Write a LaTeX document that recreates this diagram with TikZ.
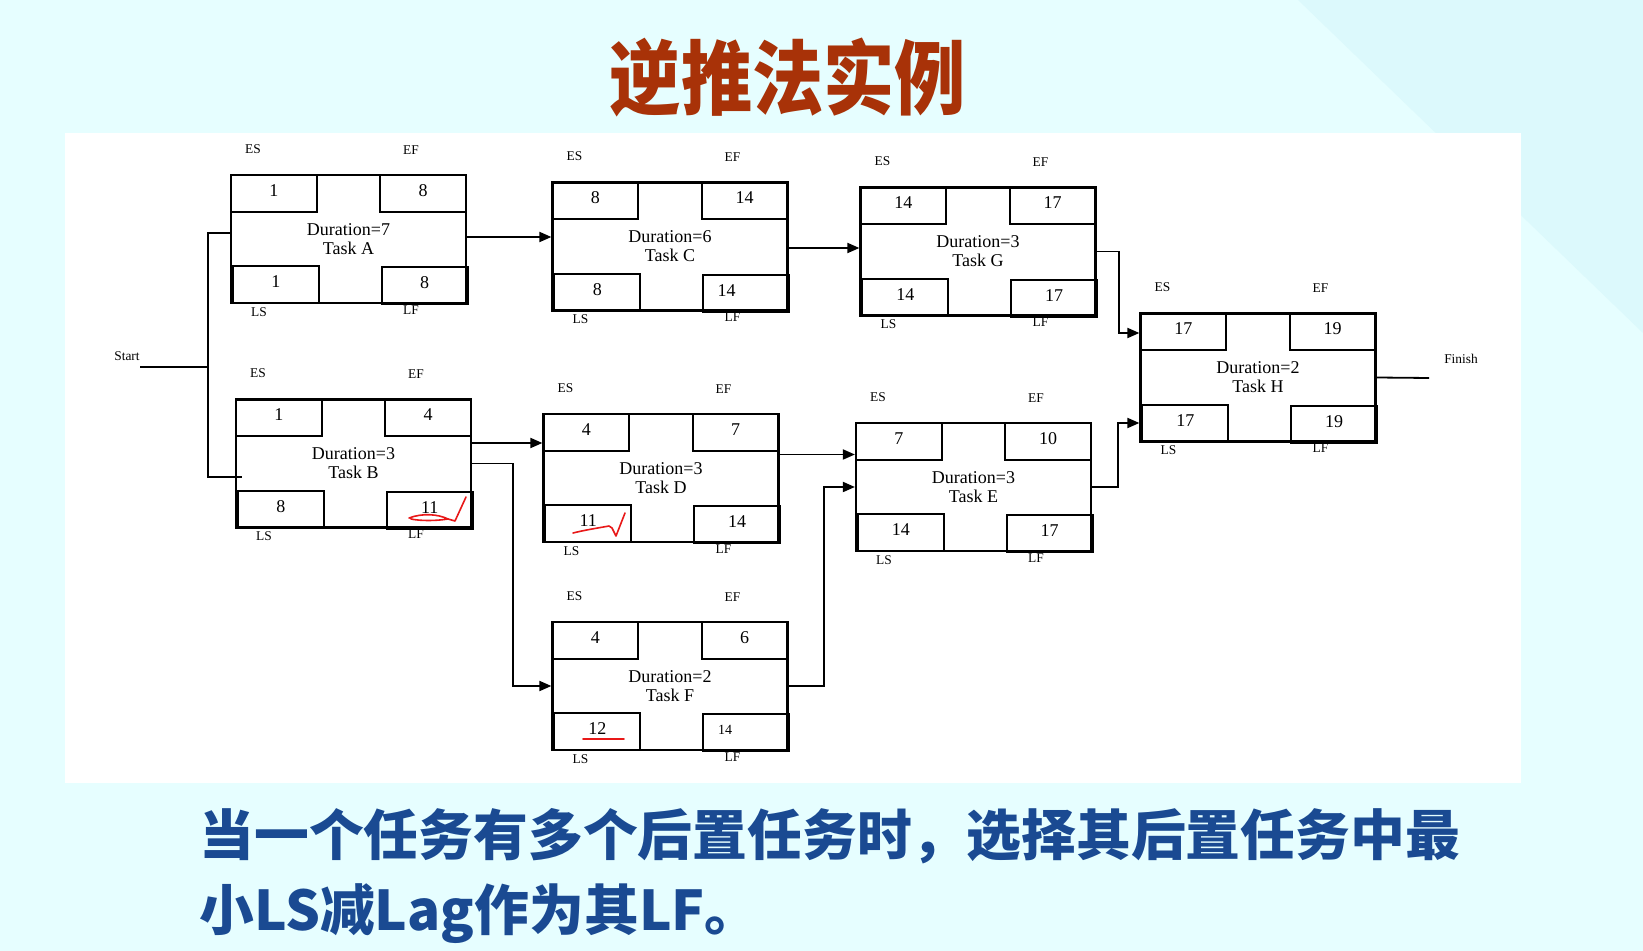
\documentclass[tikz,border=0pt]{standalone}
\usepackage{fontspec}
\setmainfont{Liberation Serif}
\newfontfamily\cjk{Noto Sans CJK SC}
\newfontfamily\cjktitle{Noto Sans CJK SC}[FakeStretch=0.88]
\usetikzlibrary{arrows.meta}
\definecolor{bgcyan}{RGB}{220,249,252}
\definecolor{bglight}{RGB}{230,254,255}
\definecolor{titlered}{RGB}{168,50,8}
\definecolor{noteblue}{RGB}{26,74,146}
\definecolor{inkred}{RGB}{232,24,24}
\begin{document}
\begin{tikzpicture}[x=.5pt,y=-.5pt,
  taskbox/.style={draw,line width=1.1pt,minimum width=117.5pt,minimum height=64pt,inner sep=0pt,align=center,font=\fontsize{9}{9.5}\selectfont},
  cell/.style={draw,line width=0.9pt,minimum width=43pt,minimum height=18.5pt,inner sep=0pt,text depth=3pt,font=\fontsize{9}{10}\selectfont},
  tag/.style={inner sep=0pt,font=\fontsize{6.7}{8}\selectfont},
  wire/.style={draw,line width=0.9pt},
  link/.style={wire,-{Triangle[length=6pt,width=5pt]}},
  redmark/.style={draw=inkred,line width=0.8pt,line cap=round,line join=round},
  note/.style={inner sep=0pt,text=noteblue,font=\cjk\bfseries\fontsize{27.4}{30}\selectfont}]
\path[use as bounding box] (0,0) rectangle (1643,951);
\fill[bglight] (0,0) rectangle (1643,951);
\fill[bgcyan] (1298,0) -- (1643,0) -- (1643,333) -- cycle;
\fill[white] (65,133) rectangle (1521,783);
\node[anchor=base,inner sep=0pt,text=titlered,font=\cjktitle\bfseries\fontsize{40.5}{44}\selectfont] (title) at (788,109) {逆推法实例};
\node[taskbox] (A) at (348.5,239) {Duration=7\\Task A};
\node[cell,anchor=north west] (A-es) at (A.north west) {1};
\node[cell,anchor=north east] (A-ef) at (A.north east) {8};
\node[cell,anchor=south west] (A-ls) at ([xshift=1pt]A.south west) {1};
\node[cell,anchor=south east] (A-lf) at ([shift={(0.75pt,-0.5pt)}]A.south east) {8};
\node[tag] (A-es-tag) at ([shift={(11.5pt,12.5pt)}]A.north west) {ES};
\node[tag] (A-ef-tag) at ([shift={(90.5pt,12pt)}]A.north west) {EF};
\node[tag] (A-ls-tag) at ([shift={(14.5pt,-4pt)}]A.south west) {LS};
\node[tag] (A-lf-tag) at ([shift={(90.5pt,-3pt)}]A.south west) {LF};
\node[taskbox] (B) at (353.5,463.5) {Duration=3\\Task B};
\node[cell,anchor=north west] (B-es) at (B.north west) {1};
\node[cell,anchor=north east] (B-ef) at (B.north east) {4};
\node[cell,anchor=south west] (B-ls) at ([xshift=1pt]B.south west) {8};
\node[cell,anchor=south east] (B-lf) at ([shift={(0.75pt,-0.5pt)}]B.south east) {11};
\node[tag] (B-es-tag) at ([shift={(11.5pt,12.5pt)}]B.north west) {ES};
\node[tag] (B-ef-tag) at ([shift={(90.5pt,12pt)}]B.north west) {EF};
\node[tag] (B-ls-tag) at ([shift={(14.5pt,-4pt)}]B.south west) {LS};
\node[tag] (B-lf-tag) at ([shift={(90.5pt,-3pt)}]B.south west) {LF};
\node[taskbox] (C) at (670,246.5) {Duration=6\\Task C};
\node[cell,anchor=north west] (C-es) at (C.north west) {8};
\node[cell,anchor=north east] (C-ef) at (C.north east) {14};
\node[cell,anchor=south west] (C-ls) at ([xshift=1pt]C.south west) {8};
\node[cell,anchor=south east] (C-lf) at ([shift={(0.75pt,-0.5pt)}]C.south east) {14\hspace*{19.5pt}};
\node[tag] (C-es-tag) at ([shift={(11.5pt,12.5pt)}]C.north west) {ES};
\node[tag] (C-ef-tag) at ([shift={(90.5pt,12pt)}]C.north west) {EF};
\node[tag] (C-ls-tag) at ([shift={(14.5pt,-4pt)}]C.south west) {LS};
\node[tag] (C-lf-tag) at ([shift={(90.5pt,-3pt)}]C.south west) {LF};
\node[taskbox] (D) at (661,478) {Duration=3\\Task D};
\node[cell,anchor=north west] (D-es) at (D.north west) {4};
\node[cell,anchor=north east] (D-ef) at (D.north east) {7};
\node[cell,anchor=south west] (D-ls) at ([xshift=1pt]D.south west) {11};
\node[cell,anchor=south east] (D-lf) at ([shift={(0.75pt,-0.5pt)}]D.south east) {14};
\node[tag] (D-es-tag) at ([shift={(11.5pt,12.5pt)}]D.north west) {ES};
\node[tag] (D-ef-tag) at ([shift={(90.5pt,12pt)}]D.north west) {EF};
\node[tag] (D-ls-tag) at ([shift={(14.5pt,-4pt)}]D.south west) {LS};
\node[tag] (D-lf-tag) at ([shift={(90.5pt,-3pt)}]D.south west) {LF};
\node[taskbox] (E) at (973.5,487) {Duration=3\\Task E};
\node[cell,anchor=north west] (E-es) at (E.north west) {7};
\node[cell,anchor=north east] (E-ef) at (E.north east) {10};
\node[cell,anchor=south west] (E-ls) at ([xshift=1pt]E.south west) {14};
\node[cell,anchor=south east] (E-lf) at ([shift={(0.75pt,-0.5pt)}]E.south east) {17};
\node[tag] (E-es-tag) at ([shift={(11.5pt,12.5pt)}]E.north west) {ES};
\node[tag] (E-ef-tag) at ([shift={(90.5pt,12pt)}]E.north west) {EF};
\node[tag] (E-ls-tag) at ([shift={(14.5pt,-4pt)}]E.south west) {LS};
\node[tag] (E-lf-tag) at ([shift={(90.5pt,-3pt)}]E.south west) {LF};
\node[taskbox] (F) at (670,686) {Duration=2\\Task F};
\node[cell,anchor=north west] (F-es) at (F.north west) {4};
\node[cell,anchor=north east] (F-ef) at (F.north east) {6};
\node[cell,anchor=south west] (F-ls) at ([xshift=1pt]F.south west) {12};
\node[cell,anchor=south east,font=\fontsize{7}{8}\selectfont] (F-lf) at ([shift={(0.75pt,-0.5pt)}]F.south east) {14\hspace*{21pt}};
\node[tag] (F-es-tag) at ([shift={(11.5pt,12.5pt)}]F.north west) {ES};
\node[tag] (F-ef-tag) at ([shift={(90.5pt,12pt)}]F.north west) {EF};
\node[tag] (F-ls-tag) at ([shift={(14.5pt,-4pt)}]F.south west) {LS};
\node[tag] (F-lf-tag) at ([shift={(90.5pt,-3pt)}]F.south west) {LF};
\node[taskbox] (G) at (978,251.5) {Duration=3\\Task G};
\node[cell,anchor=north west] (G-es) at (G.north west) {14};
\node[cell,anchor=north east] (G-ef) at (G.north east) {17};
\node[cell,anchor=south west] (G-ls) at ([xshift=1pt]G.south west) {14};
\node[cell,anchor=south east] (G-lf) at ([shift={(0.75pt,-0.5pt)}]G.south east) {17};
\node[tag] (G-es-tag) at ([shift={(11.5pt,12.5pt)}]G.north west) {ES};
\node[tag] (G-ef-tag) at ([shift={(90.5pt,12pt)}]G.north west) {EF};
\node[tag] (G-ls-tag) at ([shift={(14.5pt,-4pt)}]G.south west) {LS};
\node[tag] (G-lf-tag) at ([shift={(90.5pt,-3pt)}]G.south west) {LF};
\node[taskbox] (H) at (1258,377.5) {Duration=2\\Task H};
\node[cell,anchor=north west] (H-es) at (H.north west) {17};
\node[cell,anchor=north east] (H-ef) at (H.north east) {19};
\node[cell,anchor=south west] (H-ls) at ([xshift=1pt]H.south west) {17};
\node[cell,anchor=south east] (H-lf) at ([shift={(0.75pt,-0.5pt)}]H.south east) {19};
\node[tag] (H-es-tag) at ([shift={(11.5pt,12.5pt)}]H.north west) {ES};
\node[tag] (H-ef-tag) at ([shift={(90.5pt,12pt)}]H.north west) {EF};
\node[tag] (H-ls-tag) at ([shift={(14.5pt,-4pt)}]H.south west) {LS};
\node[tag] (H-lf-tag) at ([shift={(90.5pt,-3pt)}]H.south west) {LF};
\node[tag] (start) at (127,356) {Start};
\node[tag] (finish) at (1461,359) {Finish};
\coordinate (start-end) at (140,367);
\coordinate (fork) at (208,367);
\coordinate (finish-end) at (1429,378);
\draw[wire] (start-end) -- (fork);
\draw[wire] ([yshift=3pt]A.west) -| (fork) |- ([shift={(3.5pt,-6.75pt)}]B.west);
\draw[link] ([yshift=1pt]A.east) -- ([yshift=4.75pt]C.west);
\draw[link] ([yshift=-0.75pt]C.east) -- ([yshift=1.75pt]G.west);
\draw[link] (G.east) -- ++(11pt,0) |- ([yshift=22.25pt]H.west);
\draw[link] ([yshift=10.25pt]B.east) -- ([yshift=17.5pt]D.west);
\draw[link] (B.east) -- ++(20.5pt,0) |- (F.west);
\draw[link] ([yshift=11.75pt]D.east) -- ([yshift=16.25pt]E.west);
\draw[link] (F.east) -- ++(17.5pt,0) |- (E.west);
\draw[link] (E.east) -- ++(13pt,0) |- ([yshift=-22.75pt]H.west);
\draw[wire] (H.east) -- (finish-end);
\draw[redmark] (409,518) .. controls (422,513) and (438,514) .. (448,519) .. controls (436,521) and (420,521) .. (411,519);
\draw[redmark] (448,519) -- (455,521) -- (466,497);
\draw[redmark] (573,533) .. controls (585,530) and (598,528) .. (609,526) -- (612,528) -- (616,536) -- (625,513);
\draw[redmark] (583,739) -- (624,739);
\node[note,anchor=base west] (note1) at (199,855) {当一个任务有多个后置任务时，选择其后置任务中最};
\node[note,anchor=base west] (note2) at (199,930) {小LS减Lag作为其LF。};
\end{tikzpicture}
\end{document}
